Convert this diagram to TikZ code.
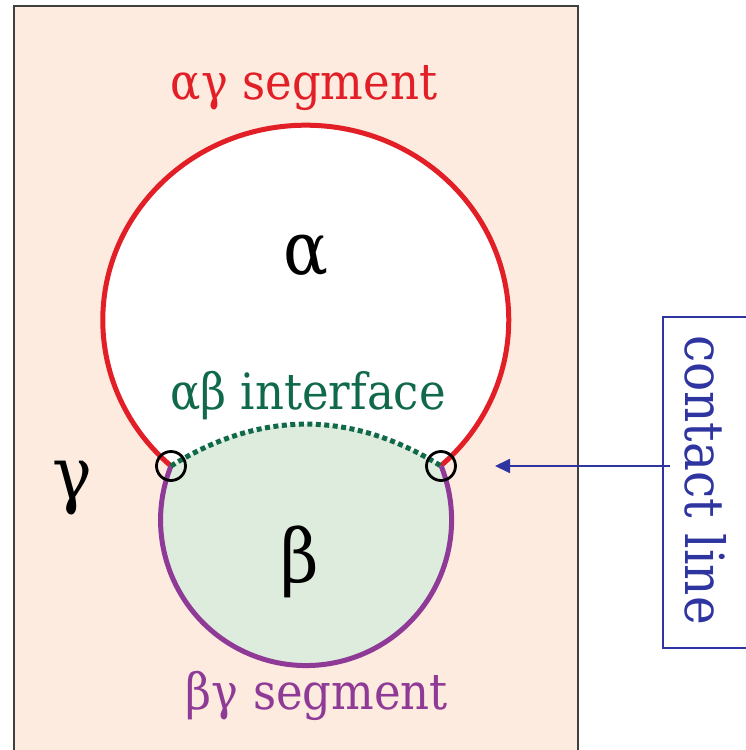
\documentclass[tikz,border=0pt]{standalone}
\usepackage{fontspec}
\setmainfont{DejaVu Serif}[FakeStretch=0.9]
\usetikzlibrary{arrows.meta, positioning}

\definecolor{peach}{RGB}{253,235,223}
\definecolor{segred}{RGB}{226,30,38}
\definecolor{segpurple}{RGB}{142,58,150}
\definecolor{betafill}{RGB}{221,236,220}
\definecolor{ifgreen}{RGB}{16,106,74}
\definecolor{noteblue}{RGB}{46,52,160}

\begin{document}
\begin{tikzpicture}[
    x=1pt, y=1pt,
    seglabel/.style={font=\fontsize{50}{54}\selectfont, inner sep=0pt},
    phase/.style={font=\fontsize{74}{78}\selectfont, inner sep=0pt},
    contactmark/.style={draw=black, line width=2.8pt, circle, minimum size=29pt, inner sep=0pt},
    arrow/.style={-{Triangle[length=15pt, width=14pt]}, line width=1.8pt, draw=noteblue}
]
    \useasboundingbox (0,0) rectangle (745,750);
    \draw[draw=black!75, line width=1.2pt, fill=peach] (14,-20) rectangle (578,744);

    \coordinate (lc) at (171,284);
    \coordinate (rc) at (441,284);

    % phases
    \fill[white] (306,430) ellipse[x radius=203, y radius=195];
    \fill[betafill] (lc) to[bend left=32] (rc)
        arc[start angle=21.8, end angle=-201.8, radius=145.5] -- cycle;

    \draw[segred, line width=5pt] (lc)
        arc[start angle=228.4, end angle=-48.4, x radius=203, y radius=195];
    \draw[segpurple, line width=5pt] (lc)
        arc[start angle=158.2, end angle=381.8, radius=145.5];
    \draw[ifgreen, line width=5pt, dash pattern=on 5pt off 3.5pt] (lc) to[bend left=32] (rc);

    \node[contactmark] (lmark) at (lc) {};
    \node[contactmark] (rmark) at (rc) {};

    % labels
    \node[seglabel, text=segred, anchor=base] (agseg) at (304,650) {αγ segment};
    \node[phase] (alpha) at (306,494) {α};
    \node[seglabel, text=ifgreen, anchor=base] (abif) at (308,340) {αβ interface};
    \node[phase] (gamma) at (72,262) {γ};
    \node[phase] (beta) at (300,188) {β};
    \node[seglabel, text=segpurple, anchor=base] (bgseg) at (317,40) {βγ segment};

    % contact line note
    \node[draw=noteblue, line width=1.8pt, minimum width=130pt, minimum height=331pt, anchor=west] (box) at (662,267.5) {};
    \node[seglabel, text=noteblue, rotate=-90, font=\fontsize{54}{58}\selectfont] (note) at (706,270) {contact line};
    \coordinate (tip) at (495,284);
    \draw[arrow] ([xshift=8pt]tip -| box.west) -- (tip);
\end{tikzpicture}
\end{document}
